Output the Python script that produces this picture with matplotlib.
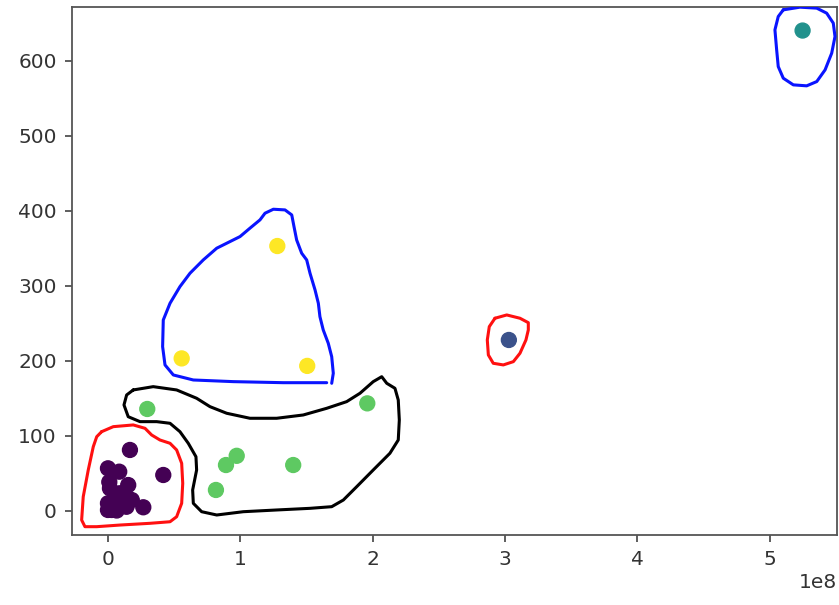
import matplotlib
matplotlib.use("Agg")
import matplotlib.pyplot as plt
import numpy as np

# x values in units of 1e8, cluster label per point
x_vals = [0.166, 0.418, 0.0, 0.085, 0.015, 0.153, 0.09, 0.0, 0.028, 0.14,
          0.267, 0.18, 0.066, 0.0, 0.05, 0.12, 0.01,
          3.03,
          5.25,
          0.297, 1.96, 0.973, 0.892, 1.40, 0.816,
          1.28, 0.557, 1.506]
y_vals = [80.8, 47.4, 56.3, 51.8, 29.6, 34.0, 23.0, 9.6, 0.7, 5.0,
          4.3, 14.0, 0.0, 0.7, 15.0, 20.0, 38.0,
          227.6,
          640.6,
          135.5, 143.0, 73.0, 60.7, 60.7, 27.4,
          353.0, 203.0, 193.0]
labels = [0] * 17 + [1] + [2] + [3] * 6 + [4] * 3

# hand drawn outlines (x in 1e8, y in data units)
red_big_x = [-0.048, 0.040, 0.191, 0.280, 0.330, 0.393, 0.469, 0.519, 0.557, 0.565, 0.557,
             0.519, 0.469, 0.317, 0.091, -0.085, -0.174, -0.199, -0.187, -0.149, -0.111,
             -0.085, -0.048]
red_big_y = [105.2, 111.9, 114.2, 109.7, 100.8, 94.1, 89.7, 80.8, 63.0, 36.3, 9.6,
             -8.3, -15.0, -17.1, -19.4, -21.6, -21.6, -12.7, 18.4, 54.1, 85.2,
             98.5, 105.2]

black_x = [0.191, 0.342, 0.519, 0.670, 0.771, 0.897, 1.073, 1.275, 1.476, 1.653, 1.804,
           1.905, 2.005, 2.069, 2.107, 2.169, 2.194, 2.202, 2.194, 2.131, 2.005, 1.880,
           1.779, 1.691, 1.527, 1.275, 1.023, 0.822, 0.708, 0.645, 0.640, 0.670, 0.665,
           0.607, 0.544, 0.469, 0.368, 0.242, 0.153, 0.121, 0.141, 0.191]
black_y = [160.9, 165.3, 160.9, 149.8, 138.6, 129.8, 123.1, 123.1, 127.5, 136.4, 145.3,
           156.5, 172.0, 178.6, 169.8, 163.1, 147.5, 120.8, 94.1, 76.4, 54.1, 31.8,
           14.0, 5.1, 2.9, 0.7, -1.6, -6.0, -1.6, 9.6, 27.4, 54.1, 71.8,
           89.7, 105.2, 116.4, 118.6, 118.6, 125.2, 140.9, 154.2, 160.9]

blue_big_x = [1.653, 1.325, 0.947, 0.645, 0.494, 0.431, 0.413, 0.418, 0.469, 0.544, 0.620,
              0.720, 0.822, 0.922, 0.998, 1.073, 1.149, 1.187, 1.250, 1.338, 1.389, 1.406,
              1.426, 1.464, 1.502, 1.527, 1.565, 1.590, 1.602, 1.627, 1.665, 1.691, 1.703,
              1.691]
blue_big_y = [170.6, 170.6, 172.0, 174.2, 180.9, 194.3, 218.7, 254.3, 276.6, 298.8, 316.7,
              334.4, 350.1, 358.9, 365.6, 376.8, 387.9, 396.8, 402.1, 401.2, 394.5, 378.9,
              361.1, 343.4, 334.4, 316.7, 294.4, 276.6, 258.7, 241.0, 223.2, 205.3, 183.2,
              169.8]

red_small_x = [2.925, 3.014, 3.114, 3.177, 3.177, 3.159, 3.114, 3.064, 2.988, 2.912,
               2.875, 2.867, 2.882, 2.925]
red_small_y = [256.6, 261.0, 256.6, 250.7, 241.0, 227.6, 209.9, 198.7, 194.3, 196.5,
               207.6, 227.6, 245.4, 256.6]

blue_small_x = [5.104, 5.230, 5.357, 5.432, 5.482, 5.495, 5.470, 5.420, 5.357, 5.281,
                5.180, 5.104, 5.066, 5.054, 5.041, 5.066, 5.104]
blue_small_y = [668.2, 671.8, 670.5, 663.8, 650.5, 632.6, 610.4, 588.1, 572.5, 566.8,
                568.1, 577.0, 592.5, 614.8, 641.5, 659.3, 668.2]

scale = 1e8
outlines = [
    (red_big_x, red_big_y, "#ff1010"),
    (black_x, black_y, "black"),
    (blue_big_x, blue_big_y, "#0a14ff"),
    (red_small_x, red_small_y, "#ff1010"),
    (blue_small_x, blue_small_y, "#0a14ff"),
]

plt.rcParams["font.size"] = 14.5
plt.rcParams["text.color"] = "#333333"
plt.rcParams["xtick.color"] = "#333333"
plt.rcParams["ytick.color"] = "#333333"

fig = plt.figure(figsize=(8.39, 6.05), dpi=100)
ax = fig.add_axes([0.0858, 0.1157, 0.9118, 0.8727])

ax.scatter(np.array(x_vals) * scale, y_vals, c=labels, cmap="viridis", s=115, zorder=2)

for ox, oy, col in outlines:
    ax.plot(np.array(ox) * scale, oy, color=col, lw=2.2, zorder=3,
            solid_capstyle="round", solid_joinstyle="round")

ax.set_xlim(-0.272 * scale, 5.51 * scale)
ax.set_ylim(-32.7, 672)
ax.set_xticks(np.arange(0, 6) * scale)
ax.set_yticks(np.arange(0, 700, 100))
ax.tick_params(length=5, width=1.1, pad=6, labelsize=14.5)
for sp in ax.spines.values():
    sp.set_color("#555555")
    sp.set_linewidth(1.3)
ax.xaxis.get_offset_text().set_fontsize(14.5)

fig.savefig("out.png", dpi=100)
